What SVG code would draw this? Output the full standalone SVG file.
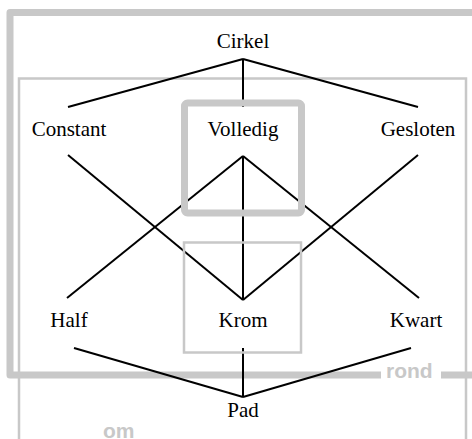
<svg xmlns="http://www.w3.org/2000/svg" width="472" height="439" viewBox="0 0 472 439">
  <style>
    .lbl { font-family: "Liberation Serif", "Times New Roman", serif; font-size: 21px; fill: #000; text-anchor: middle; }
    .grp { font-family: "Liberation Sans", Arial, sans-serif; font-weight: bold; font-size: 21px; fill: #c8c8c8; }
    .edge { stroke: #000; stroke-width: 2; fill: none; }
    .thick { stroke: #c8c8c8; stroke-width: 7; fill: none; }
    .thin { stroke: #c8c8c8; stroke-width: 2.5; fill: none; }
  </style>
  <rect width="472" height="439" fill="#fff"/>
  <g id="clusters">
    <path class="thick" d="M 381 375 L 10 375 L 10 12.5 L 480 12.5" stroke-linejoin="round"/>
    <path class="thick" d="M 441 375 L 480 375"/>
    <text class="grp" x="386" y="378">rond</text>
    <path class="thin" d="M 19 445 L 19 78.5 L 466 78.5 L 466 445"/>
    <text class="grp" x="103" y="438">om</text>
  </g>
  <g id="edges">
    <line class="edge" x1="243" y1="59" x2="68" y2="107"/>
    <line class="edge" x1="243" y1="59" x2="243" y2="107"/>
    <line class="edge" x1="243" y1="59" x2="418" y2="107"/>
    <line class="edge" x1="68" y1="155" x2="243" y2="300"/>
    <line class="edge" x1="418" y1="155" x2="243" y2="300"/>
    <line class="edge" x1="243" y1="156" x2="67" y2="298"/>
    <line class="edge" x1="243" y1="156" x2="419" y2="298"/>
    <line class="edge" x1="243" y1="156" x2="243" y2="300"/>
    <line class="edge" x1="74" y1="348" x2="243" y2="397"/>
    <line class="edge" x1="243" y1="348" x2="243" y2="397"/>
    <line class="edge" x1="411" y1="348" x2="243" y2="397"/>
  </g>
  <g id="node-cirkel"><text class="lbl" x="243" y="48">Cirkel</text></g>
  <g id="node-constant"><text class="lbl" x="69" y="136">Constant</text></g>
  <g id="node-volledig">
    <rect class="thick" x="184.5" y="103" width="117" height="110" rx="3"/>
    <text class="lbl" x="243" y="136">Volledig</text>
  </g>
  <g id="node-gesloten"><text class="lbl" x="418" y="136">Gesloten</text></g>
  <g id="node-half"><text class="lbl" x="69" y="327">Half</text></g>
  <g id="node-krom">
    <rect class="thin" x="184" y="242.5" width="117" height="110"/>
    <text class="lbl" x="243" y="327">Krom</text>
  </g>
  <g id="node-kwart"><text class="lbl" x="416" y="327">Kwart</text></g>
  <g id="node-pad"><text class="lbl" x="243" y="417">Pad</text></g>
</svg>
